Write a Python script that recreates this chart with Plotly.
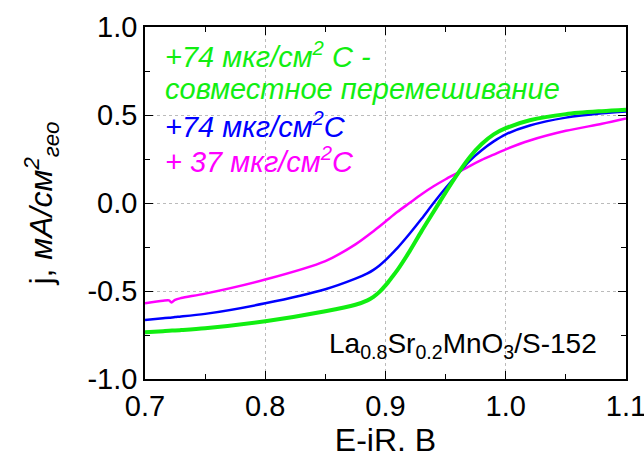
import plotly.graph_objects as go

E_common = [0.70, 0.715, 0.72, 0.725, 0.73, 0.75, 0.80, 0.85, 0.875, 0.885, 0.89, 0.895, 0.90,
            0.905, 0.91, 0.92, 0.93, 0.94, 0.95, 0.96, 0.97, 0.98, 0.99, 1.00, 1.02, 1.05, 1.08, 1.10]
j_green = [-0.735, -0.728, -0.726, -0.724, -0.722, -0.712, -0.672, -0.615, -0.578, -0.553, -0.533,
           -0.505, -0.468, -0.425, -0.38, -0.275, -0.16, -0.05, 0.06, 0.165, 0.26, 0.335, 0.39, 0.425,
           0.47, 0.505, 0.522, 0.53]
j_blue = [-0.665, -0.655, -0.652, -0.648, -0.645, -0.63, -0.57, -0.49, -0.43, -0.40, -0.38,
          -0.355, -0.325, -0.29, -0.255, -0.175, -0.09, 0.00, 0.085, 0.165, 0.24, 0.30, 0.35, 0.39,
          0.44, 0.485, 0.51, 0.52]
E_magenta = [0.70, 0.715, 0.72, 0.722, 0.725, 0.73, 0.75, 0.80, 0.85, 0.875, 0.89, 0.90, 0.91,
             0.92, 0.93, 0.94, 0.95, 0.96, 0.97, 0.98, 0.99, 1.00, 1.02, 1.05, 1.08, 1.10]
j_magenta = [-0.57, -0.555, -0.553, -0.565, -0.55, -0.54, -0.515, -0.435, -0.33, -0.235, -0.16,
             -0.105, -0.05, 0.0, 0.05, 0.095, 0.135, 0.172, 0.21, 0.245, 0.275, 0.305, 0.355, 0.41,
             0.45, 0.48]
x_ticks = [0.7, 0.8, 0.9, 1.0, 1.1]
x_labels = ["0.7", "0.8", "0.9", "1.0", "1.1"]
y_ticks = [-1.0, -0.5, 0.0, 0.5, 1.0]
y_labels = ["-1.0", "-0.5", "0.0", "0.5", "1.0"]

GREEN = "#11ee11"
BLUE = "#0000ff"
MAGENTA = "#ff00ff"
FONT = "Liberation Sans, Arial, sans-serif"

fig = go.Figure()
fig.add_trace(go.Scatter(x=E_magenta, y=j_magenta, mode="lines", line=dict(color=MAGENTA, width=2.5, shape="spline", smoothing=0.8), showlegend=False))
fig.add_trace(go.Scatter(x=E_common, y=j_blue, mode="lines", line=dict(color=BLUE, width=2.5, shape="spline", smoothing=0.8), showlegend=False))
fig.add_trace(go.Scatter(x=E_common, y=j_green, mode="lines", line=dict(color=GREEN, width=4, shape="spline", smoothing=0.8), showlegend=False))

L, R, T, B = 145, 626, 27, 379
W, H = R - L, B - T

def px(xp):
    return (xp - L) / W

def py(yp):
    return (B - yp) / H

annotations = [
    dict(text="<i>+74 мкг/см<sup>2</sup> С -</i>", x=px(163), y=py(55), color=GREEN),
    dict(text="<i>совместное перемешивание</i>", x=px(163), y=py(89), color=GREEN),
    dict(text="<i>+74 мкг/см<sup>2</sup>С</i>", x=px(163), y=py(125), color=BLUE),
    dict(text="<i>+ 37 мкг/см<sup>2</sup>С</i>", x=px(163), y=py(160), color=MAGENTA),
]
anns = []
for a in annotations:
    anns.append(dict(text=a["text"], x=a["x"], y=a["y"], xref="paper", yref="paper",
                     xanchor="left", yanchor="middle", showarrow=False,
                     font=dict(family=FONT, size=29, color=a["color"])))
anns.append(dict(text="La<sub>0.8</sub>Sr<sub>0.2</sub>MnO<sub>3</sub>/S-152", x=px(599), y=py(345),
                 xref="paper", yref="paper", xanchor="right", yanchor="middle", showarrow=False,
                 font=dict(family=FONT, size=28, color="black")))

axis_common = dict(showline=True, linecolor="black", linewidth=1.5, mirror="ticks",
                   ticks="inside", ticklen=8, tickwidth=1.2, tickcolor="black",
                   showgrid=True, gridcolor="#bbbbbb", griddash="dot", gridwidth=1,
                   zeroline=False, automargin=False, ticklabeloverflow="allow",
                   tickfont=dict(family=FONT, size=29, color="black"))

fig.update_xaxes(range=[0.7, 1.1], tickvals=x_ticks, ticktext=x_labels,
                 minor=dict(dtick=0.05, tick0=0.7, ticks="inside", ticklen=5, tickcolor="black", showgrid=False),
                 title=dict(text="E-iR. B", font=dict(family=FONT, size=32, color="black"), standoff=4),
                 **axis_common)
fig.update_yaxes(range=[-1.0, 1.0], tickvals=y_ticks, ticktext=y_labels,
                 minor=dict(dtick=0.25, tick0=-1.0, ticks="inside", ticklen=5, tickcolor="black", showgrid=False),
                 title=dict(text="j, <i>мА/см<sup>2</sup><sub>гео</sub></i>", font=dict(family=FONT, size=32, color="black"), standoff=25),
                 **axis_common)

fig.update_layout(width=644, height=464, margin=dict(l=L, r=644 - R, t=T, b=464 - B),
                  plot_bgcolor="white", paper_bgcolor="white", annotations=anns,
                  font=dict(family=FONT))

fig.write_html("out.html", config={"displayModeBar": False},
               post_script="document.body.style.margin='0';document.body.style.overflow='hidden';")
